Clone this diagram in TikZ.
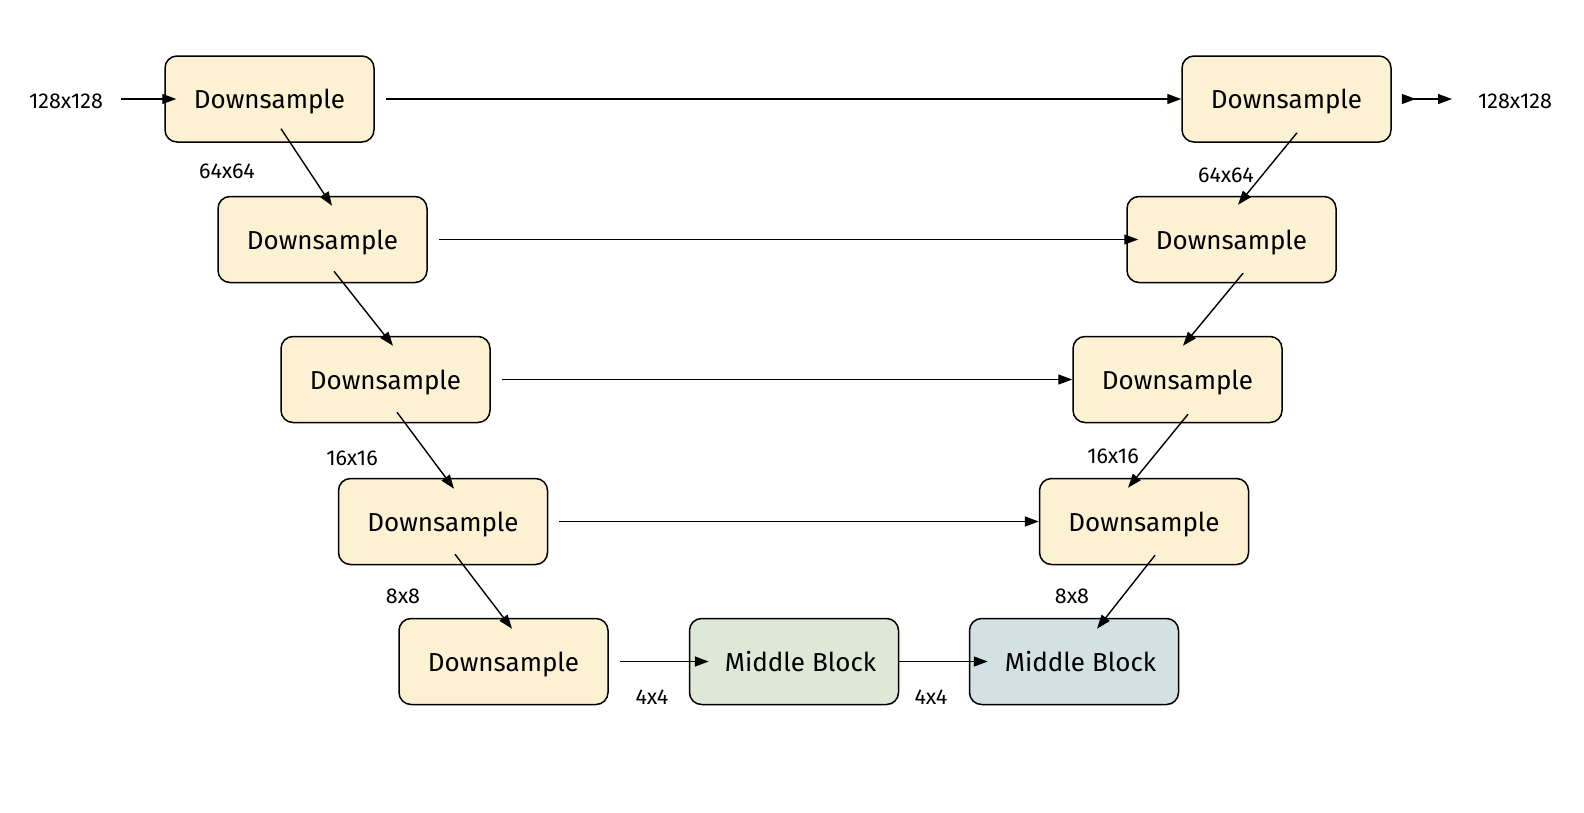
\documentclass[tikz,border=0pt]{standalone}
\usepackage{fontspec}
\setmainfont{Fira Sans}
\usetikzlibrary{arrows.meta}
\definecolor{yel}{HTML}{FCF1D2}
\definecolor{grn}{HTML}{DDE9D6}
\definecolor{blu}{HTML}{D3E1E3}
\begin{document}
\begin{tikzpicture}[x=1pt,y=-1pt,
  blk/.style={draw=black, line width=1.5pt, rounded corners=12pt, minimum width=209pt, minimum height=86pt, inner sep=0pt, text depth=0pt, font=\fontsize{26}{30}\selectfont},
  ds/.style={blk, fill=yel},
  lbl/.style={font=\fontsize{21.5}{25}\selectfont, inner sep=0pt},
  conn/.style={line width=1.4pt, -{Triangle[length=14pt,width=10pt]}}]
\useasboundingbox (0,0) rectangle (1584,812);
\node[ds] (L1) at (269.5,99) {Downsample};
\node[ds] (L2) at (322.5,239.5) {Downsample};
\node[ds] (L3) at (385.5,379.5) {Downsample};
\node[ds] (L4) at (443,521.5) {Downsample};
\node[ds] (L5) at (503.5,661.5) {Downsample};
\node[blk, fill=grn] (M1) at (794,661.5) {\hspace*{13pt}Middle Block};
\node[blk, fill=blu] (M2) at (1074,661.5) {\hspace*{13pt}Middle Block};
\node[ds] (R1) at (1286.5,99) {Downsample};
\node[ds] (R2) at (1231.5,239.5) {Downsample};
\node[ds] (R3) at (1177.5,379.5) {Downsample};
\node[ds] (R4) at (1144,521.5) {Downsample};

\node[lbl] (tin) at (66,101) {128x128};
\node[lbl] (tout) at (1515,101) {128x128};
\node[lbl] (a1) at (227,171) {64x64};
\node[lbl] (a2) at (1226,175) {64x64};
\node[lbl] (a3) at (352,458) {16x16};
\node[lbl] (a4) at (1113,456) {16x16};
\node[lbl] (a5) at (403,596) {8x8};
\node[lbl] (a6) at (1072,596) {8x8};
\node[lbl] (a7) at (652,697) {4x4};
\node[lbl] (a8) at (931,697) {4x4};

\coordinate (in) at (121,99);
\coordinate (out) at (1452,99);

\draw[conn] (in) -- ([xshift=12pt]L1.west);
\draw[line width=1.4pt, {Triangle[length=14pt,width=10pt,reversed]}-{Triangle[length=14pt,width=10pt]}] ([xshift=10pt]R1.east) -- (out);

\draw[conn] ([xshift=11pt]L1.east) -- (R1.west);
\draw[conn] ([xshift=11pt]L2.east) -- ([xshift=12pt]R2.west);
\draw[conn] ([xshift=11pt]L3.east) -- (R3.west);
\draw[conn] ([xshift=11pt]L4.east) -- (R4.west);
\draw[conn] ([xshift=11pt]L5.east) -- ([xshift=20pt]M1.west);
\draw[conn] (M1.east) -- ([xshift=19pt]M2.west);

\draw[conn] ([shift={(11.5,-14)}]L1.south) -- ([shift={(9.5,10)}]L2.north);
\draw[conn] ([shift={(11.5,-12)}]L2.south) -- ([shift={(7.5,10)}]L3.north);
\draw[conn] ([shift={(11.5,-11)}]L3.south) -- ([shift={(11,11)}]L4.north);
\draw[conn] ([shift={(12,-11)}]L4.south) -- ([shift={(8.5,11)}]L5.north);

\draw[conn] ([shift={(10.5,-10)}]R1.south) -- ([shift={(6.5,9)}]R2.north);
\draw[conn] ([shift={(11.5,-10)}]R2.south) -- ([shift={(5.5,10)}]R3.north);
\draw[conn] ([shift={(10.5,-9)}]R3.south) -- ([shift={(-16,10)}]R4.north);
\draw[conn] ([shift={(11,-10)}]R4.south) -- ([shift={(23,11)}]M2.north);
\end{tikzpicture}
\end{document}
